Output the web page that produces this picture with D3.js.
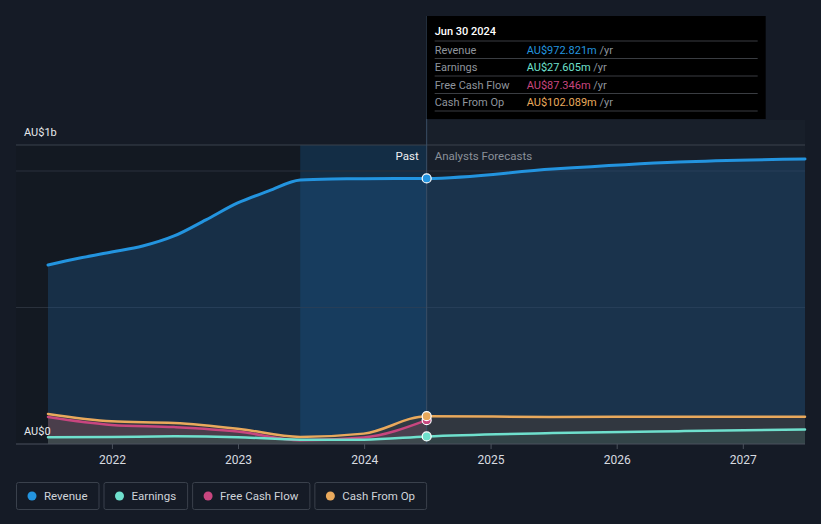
<!DOCTYPE html>
<html>
<head>
<meta charset="utf-8">
<script src="https://cdn.jsdelivr.net/npm/d3@7"></script>
<style>
  html, body { margin: 0; padding: 0; background: #151b26; }
  svg { display: block; font-family: Roboto, "Noto Sans", sans-serif; }
</style>
</head>
<body>
<div id="chart"></div>
<script>
// Past figures (AU$m, trailing twelve months)
const revenueDates = ['2021-06-30', '2021-09-30', '2021-12-31', '2022-03-31', '2022-06-30', '2022-09-30',
  '2022-12-31', '2023-03-31', '2023-06-30', '2023-09-30', '2023-12-31', '2024-06-30'];
const revenueValues = [656, 681, 703, 725, 762, 821, 883, 927, 967, 971, 972, 972.821];

const halfDates = ['2021-06-30', '2021-12-31', '2022-06-30', '2022-12-31', '2023-06-30', '2023-12-31', '2024-06-30'];
const earningsValues = [25, 26, 28, 25, 16, 16, 27.605];
const fcfValues = [99, 70, 62, 46, 14, 24, 87.346];
const cfoValues = [110, 83, 77, 56, 26, 38, 102.089];

// Analyst forecasts
const forecastDates = ['2024-06-30', '2025-06-30', '2026-06-30', '2027-06-30'];
const revenueForecast = [972.821, 1007, 1033, 1044];
const earningsForecast = [27.605, 40, 47, 53];
const cfoForecast = [102.089, 99, 100, 100];

const yearTicks = ['2022', '2023', '2024', '2025', '2026', '2027'];
const legendItems = ['Revenue', 'Earnings', 'Free Cash Flow', 'Cash From Op'];
const colors = { 'Revenue': '#2394df', 'Earnings': '#6fe0cd', 'Free Cash Flow': '#c8467f', 'Cash From Op': '#e9a95c' };

const W = 821, H = 524;
const parse = d3.timeParse('%Y-%m-%d');
const zip = (ds, vs) => ds.map((d, i) => ({ date: parse(d), value: vs[i] }));

const svg = d3.select('#chart').append('svg').attr('width', W).attr('height', H);

const x = d3.scaleTime().domain([parse('2021-06-30'), parse('2027-06-30')]).range([48, 805]);
const y = d3.scaleLinear().domain([0, 1000]).range([444, 171]);
const topY = 145;
const nowDate = parse('2024-06-30');
const nowX = x(nowDate);

// Background bands
svg.append('rect').attr('x', 16).attr('y', topY).attr('width', nowX - 16).attr('height', y(0) - topY)
  .attr('fill', '#131922');
svg.append('rect').attr('x', nowX).attr('y', 120).attr('width', 805 - nowX).attr('height', y(0) - 120)
  .attr('fill', '#181f2a');
svg.append('rect').attr('x', x(parse('2023-06-30'))).attr('y', topY)
  .attr('width', nowX - x(parse('2023-06-30'))).attr('height', y(0) - topY)
  .attr('fill', '#143452').attr('fill-opacity', 0.75);

// Gridlines
svg.append('line').attr('x1', 16).attr('x2', 805).attr('y1', topY).attr('y2', topY)
  .attr('stroke', '#3b424d').attr('stroke-width', 1);
[500, 1000].forEach(v => {
  svg.append('line').attr('x1', 16).attr('x2', 805).attr('y1', y(v)).attr('y2', y(v))
    .attr('stroke', '#2a313c').attr('stroke-width', 1);
});

const line = d3.line().x(d => x(d.date)).y(d => y(d.value)).curve(d3.curveMonotoneX);
const area = d3.area().x(d => x(d.date)).y0(y(0)).y1(d => y(d.value)).curve(d3.curveMonotoneX);

const revenue = zip(revenueDates, revenueValues).concat(zip(forecastDates, revenueForecast).slice(1));
const earnings = zip(halfDates, earningsValues).concat(zip(forecastDates, earningsForecast).slice(1));
const fcf = zip(halfDates, fcfValues);
const cfo = zip(halfDates, cfoValues).concat(zip(forecastDates, cfoForecast).slice(1));

// Areas
svg.append('path').attr('d', area(revenue)).attr('fill', '#1f5a8c').attr('fill-opacity', 0.35);
svg.append('path').attr('d', area(cfo)).attr('fill', '#3a3a3c').attr('fill-opacity', 0.75);
svg.append('path').attr('d', area(fcf)).attr('fill', '#6a4a5a').attr('fill-opacity', 0.45);
svg.append('path').attr('d', area(earnings)).attr('fill', '#35514f').attr('fill-opacity', 0.55);

// Lines
const series = [
  { name: 'Revenue', data: revenue, w: 3 },
  { name: 'Cash From Op', data: cfo, w: 2.5 },
  { name: 'Free Cash Flow', data: fcf, w: 2.5 },
  { name: 'Earnings', data: earnings, w: 2.5 }
];
series.forEach(s => {
  svg.append('path').attr('d', line(s.data)).attr('fill', 'none')
    .attr('stroke', colors[s.name]).attr('stroke-width', s.w).attr('stroke-linecap', 'round');
});

// Baseline and ticks
svg.append('line').attr('x1', 16).attr('x2', 805).attr('y1', y(0)).attr('y2', y(0))
  .attr('stroke', '#4a515c').attr('stroke-width', 1);
const xAxis = d3.axisBottom(x)
  .tickValues(yearTicks.map(t => parse(t + '-01-01')))
  .tickFormat(d3.timeFormat('%Y')).tickSize(5).tickPadding(6);
const ax = svg.append('g').attr('transform', `translate(0,${y(0)})`).call(xAxis);
ax.select('.domain').remove();
ax.selectAll('line').attr('stroke', '#4a515c');
ax.selectAll('text').attr('fill', '#d8dbe0').attr('font-size', 12)
  .attr('font-family', 'Roboto, sans-serif');

// Y labels
svg.append('text').attr('x', 24).attr('y', 136).attr('fill', '#e6e8eb').attr('font-size', 11).text('AU$1b');
svg.append('text').attr('x', 24).attr('y', 435).attr('fill', '#e6e8eb').attr('font-size', 11).text('AU$0');

// Past / forecast labels
svg.append('line').attr('x1', nowX).attr('x2', nowX).attr('y1', 16).attr('y2', y(0))
  .attr('stroke', '#3a4f66').attr('stroke-width', 1);
svg.append('text').attr('x', nowX - 8).attr('y', 160).attr('text-anchor', 'end')
  .attr('fill', '#eef0f2').attr('font-size', 11.5).text('Past');
svg.append('text').attr('x', nowX + 8).attr('y', 160)
  .attr('fill', '#8a9099').attr('font-size', 11.5).text('Analysts Forecasts');

// End-point dots
[['Revenue', revenueValues], ['Earnings', earningsValues], ['Free Cash Flow', fcfValues], ['Cash From Op', cfoValues]]
  .forEach(([name, vals]) => {
    svg.append('circle').attr('cx', nowX).attr('cy', y(vals[vals.length - 1])).attr('r', 4.5)
      .attr('fill', colors[name]).attr('stroke', '#ffffff').attr('stroke-width', 1.2);
  });

// Tooltip
const tip = svg.append('g').attr('transform', `translate(${nowX},16)`);
tip.append('rect').attr('width', 339).attr('height', 103).attr('fill', '#000000');
tip.append('text').attr('x', 8).attr('y', 19).attr('fill', '#ffffff').attr('font-size', 11)
  .attr('font-weight', 500).text('Jun 30 2024');
const tipRows = [
  ['Revenue', 'AU$972.821m'],
  ['Earnings', 'AU$27.605m'],
  ['Free Cash Flow', 'AU$87.346m'],
  ['Cash From Op', 'AU$102.089m']
];
tipRows.forEach((r, i) => {
  const ry = 25 + i * 17.5;
  tip.append('line').attr('x1', 8).attr('x2', 331).attr('y1', ry).attr('y2', ry)
    .attr('stroke', '#3a3d42').attr('stroke-width', 1);
  tip.append('text').attr('x', 8).attr('y', ry + 12.5).attr('fill', '#8f959d').attr('font-size', 11).text(r[0]);
  const t = tip.append('text').attr('x', 100).attr('y', ry + 12.5).attr('font-size', 11);
  t.append('tspan').attr('fill', colors[r[0]]).text(r[1]);
  t.append('tspan').attr('fill', '#8f959d').text(' /yr');
});
tip.append('line').attr('x1', 8).attr('x2', 331).attr('y1', 95).attr('y2', 95)
  .attr('stroke', '#3a3d42').attr('stroke-width', 1);

// Legend
let lx = 16;
legendItems.forEach(name => {
  const g = svg.append('g').attr('transform', `translate(${lx},482)`);
  const txt = g.append('text').attr('x', 28).attr('y', 18).attr('fill', '#d0d4da').attr('font-size', 11.5).text(name);
  const w = txt.node().getComputedTextLength() + 39;
  g.insert('rect', 'text').attr('x', 0.5).attr('y', 0.5).attr('width', w).attr('height', 27).attr('rx', 2)
    .attr('fill', 'none').attr('stroke', '#3a414c');
  g.append('circle').attr('cx', 16).attr('cy', 14).attr('r', 4.5).attr('fill', colors[name]);
  lx += w + 5;
});
</script>
</body>
</html>
